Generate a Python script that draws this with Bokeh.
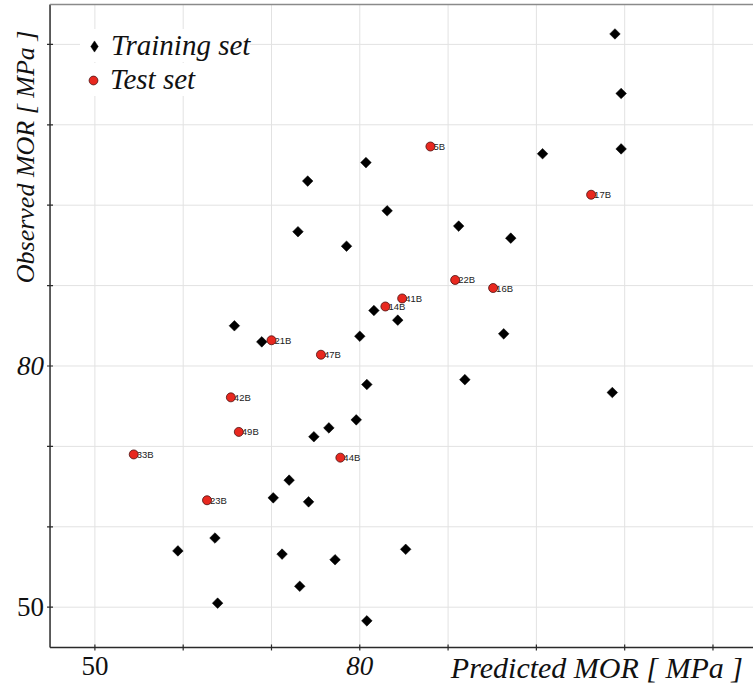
import math
from bokeh.plotting import figure
from bokeh.models import ColumnDataSource, Range1d, Label, Legend, LegendItem
from bokeh.core.properties import value
from bokeh.embed import file_html
from bokeh.resources import INLINE

# ---------------- data ----------------
train_pred = [108.9, 109.6, 109.6, 100.7, 80.7, 74.1, 83.1, 91.2, 73.0, 97.1, 78.5,
              65.8, 81.6, 84.3, 80.0, 68.9, 96.3, 91.9, 80.8, 108.6, 79.6, 76.5,
              74.8, 72.0, 70.2, 74.2, 63.6, 59.4, 71.2, 77.2, 85.2, 73.2, 63.9, 80.8]
train_obs = [121.3, 113.9, 107.0, 106.4, 105.3, 103.0, 99.3, 97.4, 96.7, 95.9, 94.9,
             85.0, 86.9, 85.7, 83.7, 83.0, 84.0, 78.3, 77.7, 76.7, 73.3, 72.3,
             71.2, 65.8, 63.6, 63.1, 58.6, 57.0, 56.6, 55.9, 57.2, 52.6, 50.5, 48.3]

test_ids = ["5B", "17B", "22B", "16B", "41B", "14B", "21B", "47B", "42B", "49B", "33B", "44B", "23B"]
test_pred = [88.0, 106.2, 90.8, 95.1, 84.8, 82.9, 70.0, 75.6, 65.4, 66.3, 54.4, 77.8, 62.7]
test_obs = [107.3, 101.3, 90.7, 89.7, 88.4, 87.4, 83.2, 81.4, 76.1, 71.8, 69.0, 68.6, 63.3]

tick_values = [50, 60, 70, 80, 90, 100, 110, 120]
labeled_ticks = {50: "normal", 80: "italic"}

x_title = "Predicted MOR  [ MPa ]"
y_title = "Observed MOR [ MPa ]"
legend_labels = ["Training set", "Test set"]

# axis limits of the plotting area
x_lo, x_hi = 44.92, 124.59
y_lo, y_hi = 44.99, 124.96

SERIF = "Liberation Serif"
INK = "#111111"

# ---------------- figure (frame = whole canvas, axes drawn in it) ----------------
p = figure(width=753, height=687, output_backend="svg", toolbar_location=None,
           x_range=Range1d(39.31, 124.59), y_range=Range1d(40.01, 125.46),
           min_border=0)
p.axis.visible = False
p.grid.visible = False
p.outline_line_color = None
p.background_fill_color = "white"
p.border_fill_color = "white"

n = len(tick_values)
# grid lines
p.segment(x0=tick_values, y0=[y_lo] * n, x1=tick_values, y1=[y_hi] * n,
          line_color="#e2e2e2", line_width=1)
p.segment(x0=[x_lo] * n, y0=tick_values, x1=[x_hi] * n, y1=tick_values,
          line_color="#e2e2e2", line_width=1)

# frame lines: left & bottom axes, grey top border
p.segment(x0=[x_lo, x_lo], y0=[y_lo, y_lo], x1=[x_lo, x_hi], y1=[y_hi, y_lo],
          line_color="#2a2a2a", line_width=1.5)
p.segment(x0=[x_lo], y0=[y_hi], x1=[x_hi], y1=[y_hi], line_color="#8a8a8a", line_width=1.5)

# tick marks
p.scatter(x=[x_lo] * n, y=tick_values, marker="dash", size=6, line_color="#2a2a2a", line_width=1.2)
p.scatter(x=tick_values, y=[y_lo] * n, marker="dash", angle=math.pi / 2, size=6,
          line_color="#2a2a2a", line_width=1.2)

# tick labels
for t, style in labeled_ticks.items():
    p.add_layout(Label(x=t, y=y_lo, y_offset=-19, text=str(t),
                       text_align="center", text_baseline="middle",
                       text_font=SERIF, text_font_size="27px", text_font_style=style,
                       text_color=INK))
    p.add_layout(Label(x=x_lo, y=t, x_offset=-6, text=str(t),
                       text_align="right", text_baseline="middle",
                       text_font=SERIF, text_font_size="27px", text_font_style=style,
                       text_color=INK))

# axis titles
p.add_layout(Label(x=x_hi, y=y_lo, x_offset=-3, y_offset=-20, text=x_title,
                   text_align="right", text_baseline="middle",
                   text_font=SERIF, text_font_size="30px", text_font_style="italic",
                   text_color=INK))
p.add_layout(Label(x=x_lo, y=y_hi, x_offset=-25, y_offset=-26, text=y_title,
                   angle=math.pi / 2, text_align="right", text_baseline="middle",
                   text_font=SERIF, text_font_size="26px", text_font_style="italic",
                   text_color=INK))

# ---------------- data glyphs ----------------
src_train = ColumnDataSource(dict(x=train_pred, y=train_obs))
src_test = ColumnDataSource(dict(x=test_pred, y=test_obs, id=test_ids))

p.text(x="x", y="y", text="id", source=src_test, x_offset=3,
       text_align="left", text_baseline="middle",
       text_font=value("Liberation Sans"), text_font_size="9.5px", text_color="#222222")

p.scatter(x="x", y="y", source=src_train, marker="square", size=7.5,
          angle=math.pi / 4, fill_color="black", line_color="black", line_width=0.5)
r_test = p.scatter(x="x", y="y", source=src_test, marker="circle", size=9,
                   fill_color="#e8281f", line_color="#4a1010", line_width=0.8)

# legend swatch for the diamond marker (a single undrawn NaN point)
r_train_key = p.scatter(x=[float("nan")], y=[float("nan")], marker="diamond",
                        fill_color="black", line_color="black", line_width=0.5)


def style_legend(lg, glyph, standoff):
    lg.label_text_font = SERIF
    lg.label_text_font_size = "29px"
    lg.label_text_font_style = "italic"
    lg.label_text_color = INK
    lg.label_standoff = standoff
    lg.glyph_width = glyph
    lg.glyph_height = glyph
    lg.spacing = 0
    lg.padding = 10
    lg.background_fill_color = "white"
    lg.background_fill_alpha = 1.0
    lg.border_line_color = None


legend_train = Legend(items=[LegendItem(label=legend_labels[0], renderers=[r_train_key])],
                      location=(80, 625))
style_legend(legend_train, 28, 3)
legend_test = Legend(items=[LegendItem(label=legend_labels[1], renderers=[r_test])],
                     location=(82, 591))
style_legend(legend_test, 22, 6)
p.add_layout(legend_test)
p.add_layout(legend_train)

open("out.html", "w").write(file_html(p, INLINE))
